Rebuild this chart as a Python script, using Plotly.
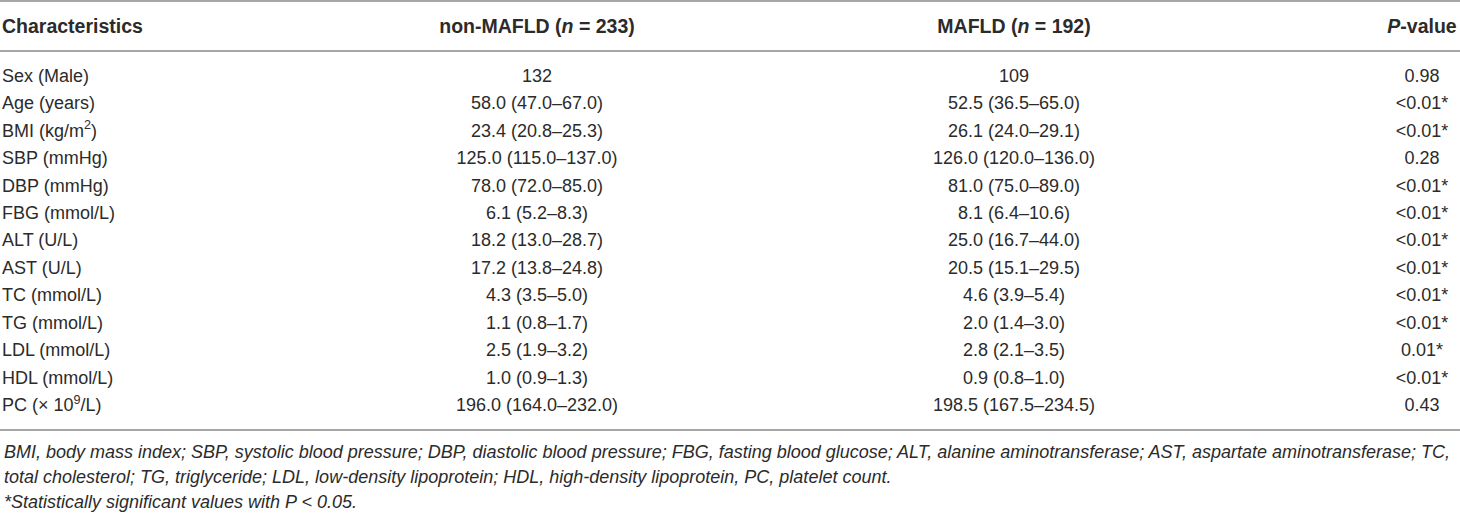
import plotly.graph_objects as go

headers = ["Characteristics", "non-MAFLD (<i>n</i> = 233)", "MAFLD (<i>n</i> = 192)", "<i>P</i>-value"]
characteristics = [
    "Sex (Male)", "Age (years)", "BMI (kg/m<sup>2</sup>)", "SBP (mmHg)", "DBP (mmHg)",
    "FBG (mmol/L)", "ALT (U/L)", "AST (U/L)", "TC (mmol/L)", "TG (mmol/L)",
    "LDL (mmol/L)", "HDL (mmol/L)", "PC (× 10<sup>9</sup>/L)",
]
non_mafld = [
    "132", "58.0 (47.0–67.0)", "23.4 (20.8–25.3)", "125.0 (115.0–137.0)", "78.0 (72.0–85.0)",
    "6.1 (5.2–8.3)", "18.2 (13.0–28.7)", "17.2 (13.8–24.8)", "4.3 (3.5–5.0)", "1.1 (0.8–1.7)",
    "2.5 (1.9–3.2)", "1.0 (0.9–1.3)", "196.0 (164.0–232.0)",
]
mafld = [
    "109", "52.5 (36.5–65.0)", "26.1 (24.0–29.1)", "126.0 (120.0–136.0)", "81.0 (75.0–89.0)",
    "8.1 (6.4–10.6)", "25.0 (16.7–44.0)", "20.5 (15.1–29.5)", "4.6 (3.9–5.4)", "2.0 (1.4–3.0)",
    "2.8 (2.1–3.5)", "0.9 (0.8–1.0)", "198.5 (167.5–234.5)",
]
p_values = [
    "0.98", "<0.01*", "<0.01*", "0.28", "<0.01*", "<0.01*", "<0.01*", "<0.01*",
    "<0.01*", "<0.01*", "0.01*", "<0.01*", "0.43",
]
footnotes = [
    "BMI, body mass index; SBP, systolic blood pressure; DBP, diastolic blood pressure; FBG, fasting blood glucose; ALT, alanine aminotransferase; AST, aspartate aminotransferase; TC,",
    "total cholesterol; TG, triglyceride; LDL, low-density lipoprotein; HDL, high-density lipoprotein, PC, platelet count.",
    "*Statistically significant values with P < 0.05.",
]

W, H = 1460, 513
FONT = "Liberation Sans, Arial, Helvetica, sans-serif"
TXT = "#2b2b2b"
RULE = "#a6a6a6"

# column anchor positions (x axis in pixels) and row layout
col_x = [2, 537, 1014, 1422]
row_idx = list(range(len(characteristics)))
header_y = -1.78
rule_y = [-2.76, -0.945, 12.84]
foot_y = [13.64, 14.55, 15.45]

fig = go.Figure()

fig.add_trace(go.Scatter(
    x=[col_x[0]] * len(characteristics), y=row_idx, text=characteristics,
    mode="text", textposition="middle right",
    textfont=dict(family=FONT, size=18, color=TXT), hoverinfo="skip"))
for cx, col in zip(col_x[1:], [non_mafld, mafld, p_values]):
    fig.add_trace(go.Scatter(
        x=[cx] * len(col), y=row_idx, text=col,
        mode="text", textposition="middle center",
        textfont=dict(family=FONT, size=18, color=TXT), hoverinfo="skip"))

# header row
fig.add_trace(go.Scatter(
    x=[col_x[0]], y=[header_y], text=["<b>" + headers[0] + "</b>"],
    mode="text", textposition="middle right",
    textfont=dict(family=FONT, size=19.5, color=TXT), hoverinfo="skip"))
fig.add_trace(go.Scatter(
    x=col_x[1:], y=[header_y] * 3, text=["<b>" + h + "</b>" for h in headers[1:]],
    mode="text", textposition="middle center",
    textfont=dict(family=FONT, size=19.5, color=TXT), hoverinfo="skip"))

for ry in rule_y:
    fig.add_shape(type="line", xref="x", yref="y", x0=0, x1=W, y0=ry, y1=ry,
                  line=dict(color=RULE, width=2))

for fy, ft in zip(foot_y, footnotes):
    fig.add_annotation(x=col_x[0], y=fy, xref="x", yref="y", text="<i>" + ft + "</i>",
                       showarrow=False, xanchor="left", yanchor="middle",
                       font=dict(family=FONT, size=18, color=TXT))

fig.update_layout(
    width=W, height=H, margin=dict(l=0, r=0, t=0, b=0),
    paper_bgcolor="white", plot_bgcolor="white", showlegend=False,
    xaxis=dict(range=[0, W], visible=False, fixedrange=True),
    yaxis=dict(range=[15.855, -2.8], visible=False, fixedrange=True),
)

fig.write_html("out.html", config={"displayModeBar": False},
               post_script="document.body.style.margin='0';document.body.style.overflow='hidden';")
